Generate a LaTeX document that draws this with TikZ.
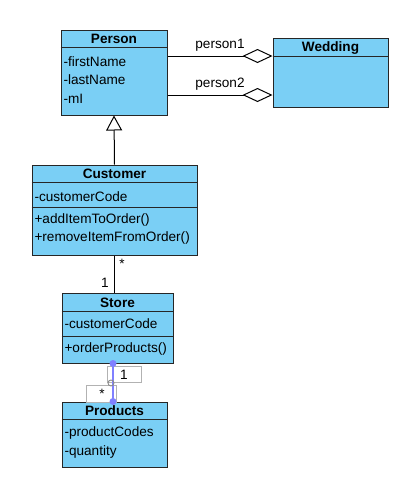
\documentclass[tikz,border=0pt]{standalone}
\usepackage{fontspec}
\setmainfont{Liberation Sans}
\usetikzlibrary{arrows.meta,positioning,calc}
\definecolor{umlblue}{RGB}{122,207,245}
\definecolor{selpurple}{RGB}{128,128,255}

\begin{document}
\begin{tikzpicture}[x=1pt,y=-1pt, line width=1pt,
    font=\fontsize{13.6}{16}\selectfont,
    classbox/.style={draw=black!85, fill=umlblue, inner sep=0pt},
    classname/.style={inner sep=0pt, font=\fontsize{13.6}{16}\selectfont\bfseries},
    member/.style={anchor=west, inner sep=0pt},
    selbox/.style={draw=black!30, line width=0.9pt}]
    % Background and bounding box
    \fill[white] (0,0) rectangle (401,496);

    % Draw classes
    \node[classbox, minimum width=106pt, minimum height=85pt] (person) at (114,72.5) {};
    \node[classbox, minimum width=115pt, minimum height=69pt] (wedding) at (330.5,72.5) {};
    \node[classbox, minimum width=165pt, minimum height=90pt] (customer) at (114.5,210) {};
    \node[classbox, minimum width=111pt, minimum height=70pt] (store) at (117.5,328) {};
    \node[classbox, minimum width=105pt, minimum height=65pt] (products) at (114.5,434.5) {};

    % Compartment lines
    \draw[black!85] ($(person.north west)+(0,18)$) -- ($(person.north east)+(0,18)$);
    \draw[black!85] ($(wedding.north west)+(0,19)$) -- ($(wedding.north east)+(0,19)$);
    \draw[black!85] ($(customer.north west)+(0,18)$) -- ($(customer.north east)+(0,18)$);
    \draw[black!85] ($(customer.north west)+(0,43)$) -- ($(customer.north east)+(0,43)$);
    \draw[black!85] ($(store.north west)+(0,19)$) -- ($(store.north east)+(0,19)$);
    \draw[black!85] ($(store.north west)+(0,44)$) -- ($(store.north east)+(0,44)$);
    \draw[black!85] ($(products.north west)+(0,18)$) -- ($(products.north east)+(0,18)$);

    % Class names
    \node[classname] (person-name) at (114,39) {Person};
    \node[classname] (wedding-name) at (330.5,48) {Wedding};
    \node[classname] (customer-name) at (114.5,174) {Customer};
    \node[classname] (store-name) at (117.5,302.5) {Store};
    \node[classname] (products-name) at (114.5,411) {Products};

    % Members
    \node[member] (person-first) at (63,62) {-firstName};
    \node[member] (person-last) at (63,80) {-lastName};
    \node[member] (person-mi) at (63,99) {-mI};
    \node[member] (customer-code) at (34,197) {-customerCode};
    \node[member] (customer-add) at (34,220) {+addItemToOrder()};
    \node[member] (customer-remove) at (34,238) {+removeItemFromOrder()};
    \node[member] (store-code) at (64,324) {-customerCode};
    \node[member] (store-order) at (64,349) {+orderProducts()};
    \node[member] (products-codes) at (64,433) {-productCodes};
    \node[member] (products-qty) at (64,452) {-quantity};

    % Aggregations to Wedding
    \draw[-{Diamond[open,length=30pt,width=14pt]}] ([yshift=16.5pt]person.east) -- ([yshift=16.5pt]wedding.west)
        node[midway, above=1pt] (label-p1) {person1};
    \draw[-{Diamond[open,length=30pt,width=14pt]}] ([yshift=-22.5pt]person.east) -- ([yshift=-22.5pt]wedding.west)
        node[midway, above=1pt] (label-p2) {person2};

    % Generalization
    \draw[-{Triangle[open,length=15pt,width=16pt]}] (customer.north) -- (person.south);

    % Customer -- Store
    \draw (customer.south) -- (customer.south |- store.north);
    \node[inner sep=0pt] (cust-many) at (122,264) {*};
    \node[inner sep=0pt] (store-one) at (105,283) {1};

    % Store -- Products (selected)
    \coordinate (sp-top) at ([xshift=-4.5pt]store.south);
    \coordinate (sp-bot) at (sp-top |- products.north);
    \draw[selbox] (107,366) rectangle (141,382);
    \draw[selbox] (86,385) rectangle (116,402);
    \node[inner sep=0pt] (sp-one) at (124,375) {1};
    \node[inner sep=0pt] (sp-many) at (102,394) {*};
    \draw[selpurple, line width=1.2pt] (sp-top) -- (sp-bot);
    \draw[black!45, line width=0.9pt] (111,383) circle (3pt);
    \fill[selpurple] (sp-top) circle (3.5pt);
    \fill[selpurple] (sp-bot) circle (3.5pt);
\end{tikzpicture}
\end{document}
